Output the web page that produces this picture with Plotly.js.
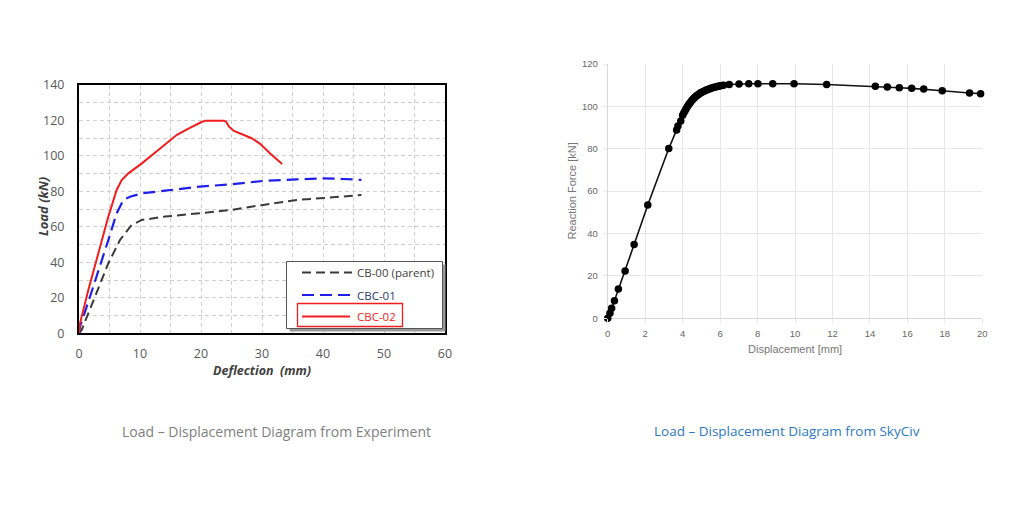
<!DOCTYPE html>
<html><head><meta charset="utf-8">
<script src="https://cdn.plot.ly/plotly-3.0.1.min.js"></script>
<style>html,body{margin:0;padding:0;background:#fff;} #chart{width:1024px;height:525px;}</style>
</head><body><div id="chart"></div>
<script>
// ---- Left chart: experiment ----
const cb00X = [0, 0.44, 2.62, 4.81, 6.72, 8.63, 10.3, 14.1, 19.8, 24.8, 30.2, 35.7, 39.5, 46.3];
const cb00Y = [0, 1.9, 20.6, 39.5, 52.6, 61.1, 63.9, 65.8, 67.7, 69.5, 72.4, 75.2, 76.1, 78.0];
const cbc01X = [0, 0.16, 1.8, 3.44, 4.81, 6.17, 7.27, 8.36, 10.3, 14.1, 19.8, 24.8, 30.2, 35.7, 40.0, 43.3, 46.3];
const cbc01Y = [0, 3.7, 20.6, 37.6, 52.6, 67.7, 75.2, 77.0, 78.9, 80.4, 82.7, 84, 85.9, 86.8, 87.4, 87.0, 86.5];
const cbc02X = [0, 0.16, 1.53, 3.17, 4.81, 6.17, 7.0, 8.09, 10.3, 13.0, 16.0, 17.7, 18.9, 20.0, 20.7, 23.7, 24.1, 24.6, 25.4, 26.9, 28.3, 29.7, 31.3, 33.3];
const cbc02Y = [0, 5.6, 24.4, 45.1, 65.8, 80.8, 86.4, 90.2, 95.8, 103.3, 111.8, 115.0, 117.3, 119.0, 119.9, 119.9, 119.4, 116.5, 114.1, 111.8, 110.0, 106.8, 101.5, 95.5];
const legendNames = ["CB-00 (parent)", "CBC-01", "CBC-02"];
const expXTicks = [0, 10, 20, 30, 40, 50, 60];
const expYTicks = [0, 20, 40, 60, 80, 100, 120, 140];

// ---- Right chart: SkyCiv ----
const skyX = [0, 0.12, 0.21, 0.36, 0.57, 0.93, 1.41, 2.14, 3.26, 3.68, 3.75, 3.90,
  4.00, 4.06, 4.12, 4.18, 4.24, 4.30, 4.36, 4.42, 4.48, 4.54, 4.60, 4.66, 4.72, 4.78, 4.84, 4.90, 4.96,
  5.03, 5.10, 5.17, 5.24, 5.31, 5.38, 5.45, 5.52, 5.60, 5.68, 5.76, 5.84, 5.92, 6.00, 6.10, 6.18,
  6.49, 7.01, 7.53, 8.02, 8.81, 9.95, 11.69, 14.29, 14.93, 15.57, 16.23, 16.87, 17.86, 19.32, 19.91];
const skyY = [0, 2.4, 4.7, 8.3, 13.8, 22.3, 34.8, 53.5, 80.1, 88.9, 90.8, 93.1,
  95.8, 96.9, 97.8, 98.8, 99.7, 100.5, 101.2, 101.9, 102.6, 103.2, 103.8, 104.3, 104.8, 105.2, 105.6, 106.0, 106.4,
  106.7, 107.0, 107.3, 107.6, 107.9, 108.1, 108.3, 108.6, 108.8, 109.0, 109.2, 109.4, 109.5, 109.7, 109.8, 110.0,
  110.3, 110.6, 110.7, 110.7, 110.7, 110.7, 110.3, 109.5, 109.2, 108.8, 108.5, 108.2, 107.4, 106.3, 106.0];

const captions = ["Load \u2013 Displacement Diagram from Experiment", "Load \u2013 Displacement Diagram from SkyCiv"];

const W = 1024, H = 525;
const px = x => x / W;
const py = y => 1 - y / H;

const traces = [
  {x: cb00X, y: cb00Y, type: 'scatter', mode: 'lines', name: legendNames[0], showlegend: false,
   line: {color: '#3a3a3a', width: 2, dash: '9px,5px'}, xaxis: 'x', yaxis: 'y'},
  {x: cbc01X, y: cbc01Y, type: 'scatter', mode: 'lines', name: legendNames[1], showlegend: false,
   line: {color: '#1f1fe8', width: 2.2, dash: '12px,6px'}, xaxis: 'x', yaxis: 'y'},
  {x: cbc02X, y: cbc02Y, type: 'scatter', mode: 'lines', name: legendNames[2], showlegend: false,
   line: {color: '#f21d1d', width: 2}, xaxis: 'x', yaxis: 'y'},
  {x: skyX, y: skyY, type: 'scatter', mode: 'lines+markers', showlegend: false, cliponaxis: false,
   line: {color: '#111', width: 1.6}, marker: {color: '#000', size: 7.5}, xaxis: 'x2', yaxis: 'y2'}
];

const leftGrid = '#d0d0d0';
const gridDash = '4px,3px';
const layout = {
  width: W, height: H, margin: {l: 0, r: 0, t: 0, b: 0},
  paper_bgcolor: '#fff', plot_bgcolor: '#fff', showlegend: false,
  xaxis: {domain: [px(79), px(445)], range: [0, 60], tickvals: expXTicks, anchor: 'y',
    showgrid: true, gridcolor: leftGrid, griddash: gridDash, gridwidth: 1,
    minor: {dtick: 5, tick0: 0, showgrid: true, gridcolor: leftGrid, griddash: gridDash, gridwidth: 1},
    showline: true, linecolor: '#000', linewidth: 2, mirror: true, zeroline: false, ticks: '',
    ticklabelstandoff: 8, tickfont: {family: 'Open Sans', size: 12.5, color: '#595959'}},
  yaxis: {domain: [py(333.3), py(85)], range: [0, 140], tickvals: expYTicks, anchor: 'x',
    showgrid: true, gridcolor: leftGrid, griddash: gridDash, gridwidth: 1,
    minor: {dtick: 10, tick0: 0, showgrid: true, gridcolor: leftGrid, griddash: gridDash, gridwidth: 1},
    showline: true, linecolor: '#000', linewidth: 2, mirror: true, zeroline: false, ticks: '',
    ticklabelstandoff: 10, tickfont: {family: 'Open Sans', size: 12.5, color: '#595959'}},
  xaxis2: {domain: [px(607.7), px(982.3)], range: [0, 20], dtick: 2, tick0: 0, anchor: 'y2',
    showgrid: true, gridcolor: '#e8e8e8', gridwidth: 1, zeroline: true, zerolinecolor: '#d8d8d8', zerolinewidth: 1,
    showline: false, ticks: 'outside', ticklen: 4, tickcolor: '#e8e8e8',
    ticklabelstandoff: 2, tickfont: {family: 'Liberation Sans', size: 9.5, color: '#666'}},
  yaxis2: {domain: [py(318.3), py(64)], range: [0, 120], dtick: 20, tick0: 0, anchor: 'x2',
    showgrid: true, gridcolor: '#e8e8e8', gridwidth: 1, zeroline: true, zerolinecolor: '#d8d8d8', zerolinewidth: 1,
    showline: false, ticks: 'outside', ticklen: 4, tickcolor: '#e8e8e8',
    ticklabelstandoff: 3, tickfont: {family: 'Liberation Sans', size: 9.5, color: '#666'}},
  shapes: [
    // legend shadow + box
    {type: 'rect', xref: 'paper', yref: 'paper', x0: px(289.5), x1: px(445.5), y0: py(331.5), y1: py(264.5),
     fillcolor: '#9a9a9a', line: {width: 0}, layer: 'above'},
    {type: 'rect', xref: 'paper', yref: 'paper', x0: px(286.5), x1: px(442.5), y0: py(328.5), y1: py(261.5),
     fillcolor: '#fff', line: {color: '#555', width: 1}, layer: 'above'},
    // legend samples
    {type: 'line', xref: 'paper', yref: 'paper', x0: px(302), x1: px(352), y0: py(272.5), y1: py(272.5),
     line: {color: '#3a3a3a', width: 2, dash: '9px,5px'}, layer: 'above'},
    {type: 'line', xref: 'paper', yref: 'paper', x0: px(302), x1: px(352), y0: py(295), y1: py(295),
     line: {color: '#1f1fe8', width: 2.2, dash: '12px,6px'}, layer: 'above'},
    {type: 'line', xref: 'paper', yref: 'paper', x0: px(302), x1: px(350), y0: py(316.5), y1: py(316.5),
     line: {color: '#f21d1d', width: 2}, layer: 'above'},
    // red highlight box around CBC-02
    {type: 'rect', xref: 'paper', yref: 'paper', x0: px(297.5), x1: px(402.5), y0: py(326.5), y1: py(303.5),
     line: {color: '#f21d1d', width: 1.3}, layer: 'above'}
  ],
  annotations: [
    {text: legendNames[0], x: px(355), y: py(272.5), xref: 'paper', yref: 'paper', xanchor: 'left', yanchor: 'middle',
     showarrow: false, font: {family: 'Open Sans', size: 11.5, color: '#404040'}},
    {text: legendNames[1], x: px(355), y: py(295), xref: 'paper', yref: 'paper', xanchor: 'left', yanchor: 'middle',
     showarrow: false, font: {family: 'Open Sans', size: 11.5, color: '#2b3a6b'}},
    {text: legendNames[2], x: px(355), y: py(316.5), xref: 'paper', yref: 'paper', xanchor: 'left', yanchor: 'middle',
     showarrow: false, font: {family: 'Open Sans', size: 11.5, color: '#f21d1d'}},
    {text: '<b><i>Load (kN)</i></b>', x: px(43), y: py(207), xref: 'paper', yref: 'paper', textangle: -90,
     xanchor: 'center', yanchor: 'middle', showarrow: false, font: {family: 'Open Sans', size: 13, color: '#404040'}},
    {text: '<b><i>Deflection\u00a0 (mm)</i></b>', x: px(262), y: py(370), xref: 'paper', yref: 'paper',
     xanchor: 'center', yanchor: 'middle', showarrow: false, borderpad: 0,
     font: {family: 'Open Sans', size: 12.5, color: '#404040'}},
    {text: 'Reaction Force [kN]', x: px(571), y: py(191.5), xref: 'paper', yref: 'paper', textangle: -90,
     xanchor: 'center', yanchor: 'middle', showarrow: false, font: {family: 'Liberation Sans', size: 11, color: '#777'}},
    {text: 'Displacement [mm]', x: px(795), y: py(349), xref: 'paper', yref: 'paper',
     xanchor: 'center', yanchor: 'middle', showarrow: false, font: {family: 'Liberation Sans', size: 11, color: '#777'}},
    {text: captions[0], x: px(276), y: py(431), xref: 'paper', yref: 'paper',
     xanchor: 'center', yanchor: 'middle', showarrow: false, font: {family: 'Open Sans', size: 14, color: '#808080'}},
    {text: captions[1], x: px(787), y: py(431), xref: 'paper', yref: 'paper',
     xanchor: 'center', yanchor: 'middle', showarrow: false, font: {family: 'Open Sans', size: 13.5, color: '#2e78c2'}}
  ]
};

Plotly.newPlot('chart', traces, layout, {staticPlot: true, displayModeBar: false});
</script>
</body></html>
